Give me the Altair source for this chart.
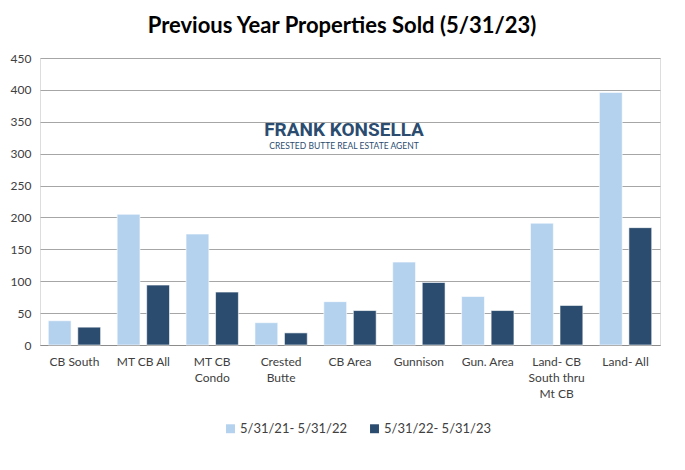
import altair as alt
import pandas as pd

categories = ["CB South", "MT CB All", "MT CB|Condo", "Crested|Butte", "CB Area",
              "Gunnison", "Gun. Area", "Land- CB|South thru|Mt CB", "Land- All"]
series_names = ["5/31/21- 5/31/22", "5/31/22- 5/31/23"]
prev_year = [38, 205, 174, 35, 68, 130, 76, 191, 396]
this_year = [28, 94, 83, 19, 54, 98, 54, 62, 184]
y_ticks = [0, 50, 100, 150, 200, 250, 300, 350, 400, 450]

rows = []
for c, a, b in zip(categories, prev_year, this_year):
    rows.append({"cat": c, "series": series_names[0], "value": a})
    rows.append({"cat": c, "series": series_names[1], "value": b})
df = pd.DataFrame(rows)

FONT = "Lato"
light = "#B4D2EE"
dark = "#2B4C6F"

bars = alt.Chart(df).mark_bar(stroke="white", strokeWidth=0.6).encode(
    x=alt.X("cat:N", sort=categories, title=None,
            scale=alt.Scale(paddingInner=0.24, paddingOuter=0.12),
            axis=alt.Axis(labelAngle=0, ticks=False, domain=True, domainColor="#8c8c8c",
                          labelExpr="split(datum.label, '|')", labelLineHeight=16,
                          labelPadding=11, labelFontSize=12, labelColor="#404040",
                          labelFont=FONT, grid=False)),
    xOffset=alt.XOffset("series:N", sort=series_names,
                        scale=alt.Scale(paddingInner=0.226, paddingOuter=0)),
    y=alt.Y("value:Q", title=None,
            scale=alt.Scale(domain=[0, 450], nice=False),
            axis=alt.Axis(values=y_ticks, ticks=False, domain=False, labelPadding=9,
                          labelFontSize=12, labelColor="#404040", labelFont=FONT,
                          gridColor="#a6a6a6", gridWidth=1)),
    color=alt.Color("series:N", sort=series_names,
                    scale=alt.Scale(domain=series_names, range=[light, dark]),
                    legend=alt.Legend(title=None, orient="none", direction="horizontal",
                                      legendX=184, legendY=364, symbolType="square",
                                      symbolSize=80, symbolStrokeWidth=0,
                                      labelFontSize=13, labelFont=FONT,
                                      labelColor="#404040", columnPadding=20,
                                      symbolOffset=0, labelOffset=3)),
)

logo_df = pd.DataFrame({"t": ["FRANK KONSELLA"]})
logo1 = alt.Chart(logo_df).mark_text(font="Roboto", fontSize=19, fontWeight="bold",
                                     color=dark, align="center", baseline="middle",
                                     ).encode(x=alt.value(304), y=alt.value(72), text="t:N")
logo_df2 = pd.DataFrame({"t": ["CRESTED BUTTE REAL ESTATE AGENT"]})
logo2 = alt.Chart(logo_df2).mark_text(font=FONT, fontSize=8.5, color=dark,
                                      align="center", baseline="middle",
                                      ).encode(x=alt.value(304), y=alt.value(88), text="t:N")

chart = alt.layer(bars, logo1, logo2).properties(
    width=620, height=287,
    padding={"left": 32, "top": 50, "right": 15, "bottom": 108},
    autosize=alt.AutoSizeParams(type="none"),
    title=alt.TitleParams("Previous Year Properties Sold (5/31/23)", font=FONT,
                          fontSize=22, fontWeight="bold", color="#000000",
                          anchor="middle", offset=14, dx=-8),
).configure_view(stroke=None).configure(background="white")

chart.save("out.html", embed_options={"renderer": "svg", "actions": False})
